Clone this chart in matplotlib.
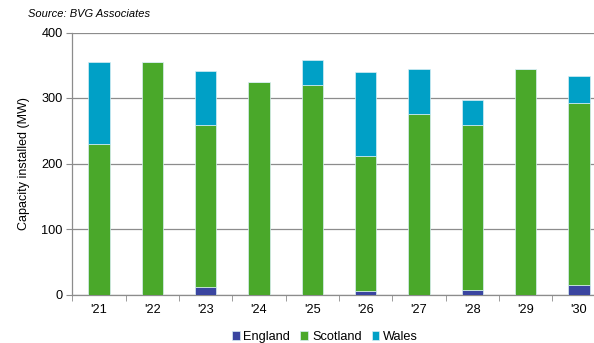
import matplotlib.pyplot as plt
import numpy as np

plt.rcParams['font.family'] = ['Liberation Sans', 'DejaVu Sans']

years = ["'21", "'22", "'23", "'24", "'25", "'26", "'27", "'28", "'29", "'30"]
england = [0, 0, 11, 0, 0, 5, 0, 7, 0, 14]
scotland = [230, 355, 248, 325, 320, 207, 275, 252, 345, 278]
wales = [125, 0, 82, 0, 38, 127, 70, 38, 0, 41]

col_eng = '#3a45a0'
col_sco = '#4aa82a'
col_wal = '#00a0c6'

fig = plt.figure(figsize=(5.94, 3.43), dpi=100)
# axis runs on past the right edge of the figure
ax = fig.add_axes([72.3 / 594, 1 - 294.5 / 343, 586.7 / 594, 262 / 343])

x = np.arange(len(years))
w = 0.4
eng = np.array(england)
sco = np.array(scotland)
wal = np.array(wales)
ax.bar(x, eng, w, color=col_eng, edgecolor='#d8eef4', linewidth=0.5, label='England', zorder=3)
ax.bar(x, sco, w, bottom=eng, color=col_sco, edgecolor='#d8eef4', linewidth=0.5, label='Scotland', zorder=3)
ax.bar(x, wal, w, bottom=eng + sco, color=col_wal, edgecolor='#d8eef4', linewidth=0.5, label='Wales', zorder=3)

ax.set_xlim(-0.5, 10.5)
ax.set_ylim(0, 400)
ax.set_yticks([0, 100, 200, 300, 400])
ax.yaxis.grid(True, color='#8c8c8c', linewidth=0.9, zorder=0)
ax.set_xticks(x)
ax.set_xticklabels(years)
ax.set_xticks(np.arange(-0.5, 10.6, 1), minor=True)
ax.tick_params(axis='x', which='major', length=0, pad=7, labelsize=9.2)
ax.tick_params(axis='x', which='minor', length=4, color='#8c8c8c', direction='out')
ax.tick_params(axis='y', length=4, color='#8c8c8c', labelsize=9.2, pad=3)

for s in ['top', 'right']:
    ax.spines[s].set_visible(False)
for s in ['left', 'bottom']:
    ax.spines[s].set_color('#8c8c8c')
    ax.spines[s].set_linewidth(0.9)

ax.set_ylabel('Capacity installed (MW)', fontsize=9, labelpad=8)

fig.text(28 / 594, 1 - 14 / 343, 'Source: BVG Associates', fontsize=8, style='italic',
         va='center', ha='left')

leg = fig.legend(loc='center', bbox_to_anchor=(325 / 594, 1 - 337 / 343), ncol=3,
                 frameon=False, fontsize=9.2, handlelength=0.6, handleheight=0.6,
                 handletextpad=0.3, columnspacing=0.8)

fig.savefig('out.png', dpi=100)
